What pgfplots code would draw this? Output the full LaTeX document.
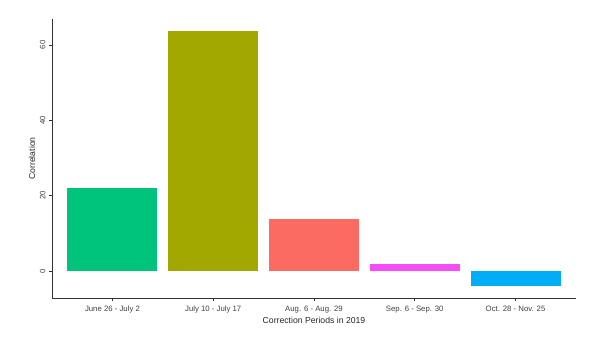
\documentclass[border=0pt]{standalone}
\usepackage{pgfplots}
\pgfplotsset{compat=1.18}
\usepackage{fontspec}
\setmainfont{Liberation Sans}
\definecolor{cgreen}{HTML}{00C47C}
\definecolor{colive}{HTML}{A3A800}
\definecolor{cred}{HTML}{FC6B62}
\definecolor{cmag}{HTML}{F54DF5}
\definecolor{cblue}{HTML}{00AEF6}
\begin{document}
\begin{tikzpicture}
\path[use as bounding box] (0,0) rectangle (600bp,348bp);
\begin{axis}[
  at={(52bp,50bp)}, anchor=south west,
  scale only axis, width=524bp, height=279bp,
  xmin=0.4, xmax=5.6, ymin=-7.2, ymax=66.9,
  axis x line*=bottom, axis y line*=left,
  axis line style={line width=0.8pt, black!80, -},
  xtick={1,2,3,4,5},
  xticklabels={June 26 - July 2, July 10 - July 17, Aug. 6 - Aug. 29, Sep. 6 - Sep. 30, Oct. 28 - Nov. 25},
  ytick={0,20,40,60},
  tick align=outside, tick pos=left,
  major tick length=3bp,
  tick style={line width=0.6pt, black!80},
  yticklabel style={rotate=90, anchor=south, font=\fontsize{7.8}{8}\selectfont, text=black!75},
  xticklabel style={font=\fontsize{7.8}{8}\selectfont, text=black!75, yshift=-1.5bp},
  /pgf/number format/assume math mode=true,
  xlabel={Correction Periods in 2019},
  ylabel={Correlation},
  xlabel style={font=\fontsize{8.7}{9}\selectfont, text=black!85, yshift=3bp},
  ylabel style={font=\fontsize{8.7}{9}\selectfont, text=black!85, yshift=-2bp},
  ybar, bar width=90bp, bar shift=0pt,
  axis background/.style={fill=white},
]
\addplot[fill=cgreen, draw=none] coordinates {(1,22.0)};
\addplot[fill=colive, draw=none] coordinates {(2,63.6)};
\addplot[fill=cred, draw=none] coordinates {(3,13.9)};
\addplot[fill=cmag, draw=none] coordinates {(4,1.8)};
\addplot[fill=cblue, draw=none] coordinates {(5,-3.9)};
\end{axis}
\end{tikzpicture}
\end{document}
